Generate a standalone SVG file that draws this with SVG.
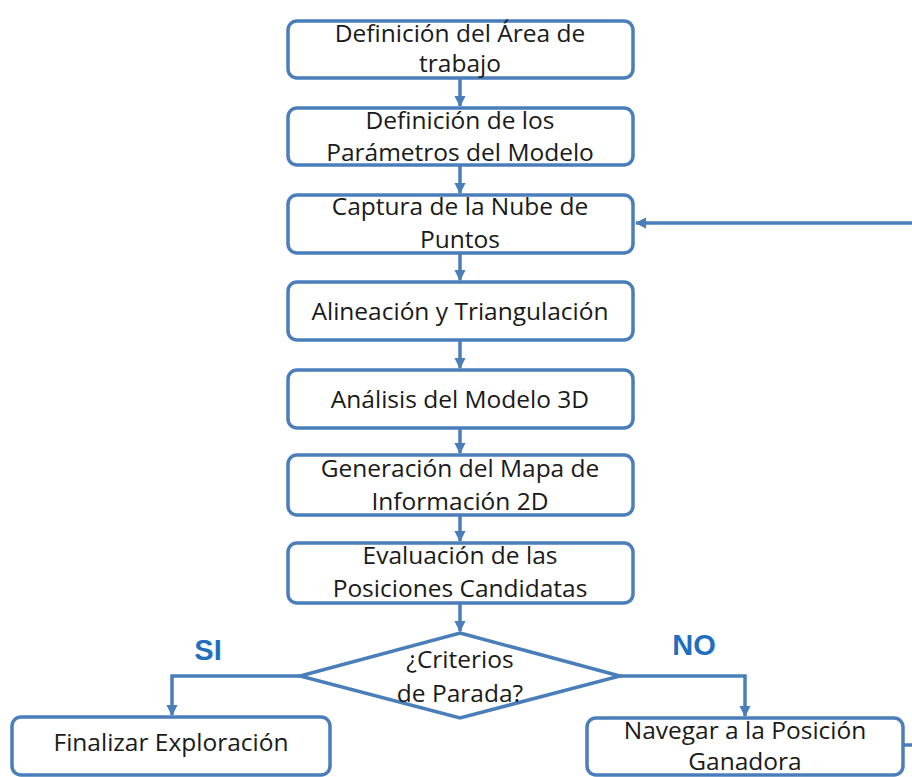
<svg xmlns="http://www.w3.org/2000/svg" width="912" height="777" viewBox="0 0 912 777">
  <style>
    .box { fill: #ffffff; stroke: #4a7ebb; stroke-width: 3.5; }
    .lbl { font-family: "Open Sans", "Liberation Sans", sans-serif; font-size: 24.5px; fill: #1a1a1a; text-anchor: middle; }
    .edge { fill: none; stroke: #4a7ebb; stroke-width: 3.5; }
    .tag { font-family: "Liberation Sans", Arial, sans-serif; font-weight: bold; font-size: 29px; fill: #1f6fbf; text-anchor: middle; }
  </style>
  <defs>
    <marker id="arrow" viewBox="0 0 10 10" refX="9" refY="5" markerWidth="3.2" markerHeight="3.2" orient="auto" markerUnits="strokeWidth">
      <path d="M0,0 L10,5 L0,10 z" fill="#4a7ebb"/>
    </marker>
  </defs>
  <rect width="912" height="777" fill="#ffffff"/>

  <g id="connectors">
    <path class="edge" d="M460,78 V106" marker-end="url(#arrow)"/>
    <path class="edge" d="M460,165 V193" marker-end="url(#arrow)"/>
    <path class="edge" d="M460,253 V280" marker-end="url(#arrow)"/>
    <path class="edge" d="M460,340 V368" marker-end="url(#arrow)"/>
    <path class="edge" d="M460,428 V453" marker-end="url(#arrow)"/>
    <path class="edge" d="M460,515 V541" marker-end="url(#arrow)"/>
    <path class="edge" d="M460,603 V631" marker-end="url(#arrow)"/>
    <path class="edge" d="M300,676 H172 V715" marker-end="url(#arrow)"/>
    <path class="edge" d="M620,676 H745 V716" marker-end="url(#arrow)"/>
    <path class="edge" d="M903,745 H912"/>
    <path class="edge" d="M912,223 H636" marker-end="url(#arrow)"/>
  </g>

  <g id="definicion-area">
    <rect class="box" x="288" y="21" width="345" height="57" rx="9"/>
    <text class="lbl" x="460" y="42">Definición del Área de</text>
    <text class="lbl" x="460" y="72">trabajo</text>
  </g>
  <g id="definicion-parametros">
    <rect class="box" x="288" y="108" width="345" height="57" rx="9"/>
    <text class="lbl" x="460" y="129">Definición de los</text>
    <text class="lbl" x="460" y="161">Parámetros del Modelo</text>
  </g>
  <g id="captura-nube">
    <rect class="box" x="288" y="195" width="345" height="58" rx="9"/>
    <text class="lbl" x="460" y="215">Captura de la Nube de</text>
    <text class="lbl" x="460" y="248">Puntos</text>
  </g>
  <g id="alineacion">
    <rect class="box" x="288" y="282" width="345" height="58" rx="9"/>
    <text class="lbl" x="460" y="320">Alineación y Triangulación</text>
  </g>
  <g id="analisis">
    <rect class="box" x="288" y="370" width="345" height="58" rx="9"/>
    <text class="lbl" x="460" y="408">Análisis del Modelo 3D</text>
  </g>
  <g id="generacion-mapa">
    <rect class="box" x="288" y="455" width="345" height="60" rx="9"/>
    <text class="lbl" x="460" y="477">Generación del Mapa de</text>
    <text class="lbl" x="460" y="510">Información 2D</text>
  </g>
  <g id="evaluacion">
    <rect class="box" x="288" y="543" width="345" height="60" rx="9"/>
    <text class="lbl" x="460" y="564">Evaluación de las</text>
    <text class="lbl" x="460" y="597">Posiciones Candidatas</text>
  </g>
  <g id="criterios-parada">
    <polygon class="box" points="460,633 620,676 460,718 300,676"/>
    <text class="lbl" x="460" y="668">¿Criterios</text>
    <text class="lbl" x="460" y="702">de Parada?</text>
  </g>
  <g id="finalizar">
    <rect class="box" x="12" y="717" width="318" height="58" rx="9"/>
    <text class="lbl" x="171" y="751">Finalizar Exploración</text>
  </g>
  <g id="navegar">
    <rect class="box" x="587" y="718" width="316" height="57" rx="9"/>
    <text class="lbl" x="745" y="739">Navegar a la Posición</text>
    <text class="lbl" x="745" y="770">Ganadora</text>
  </g>

  <text class="tag" x="208" y="660">SI</text>
  <text class="tag" x="694" y="655">NO</text>
</svg>
